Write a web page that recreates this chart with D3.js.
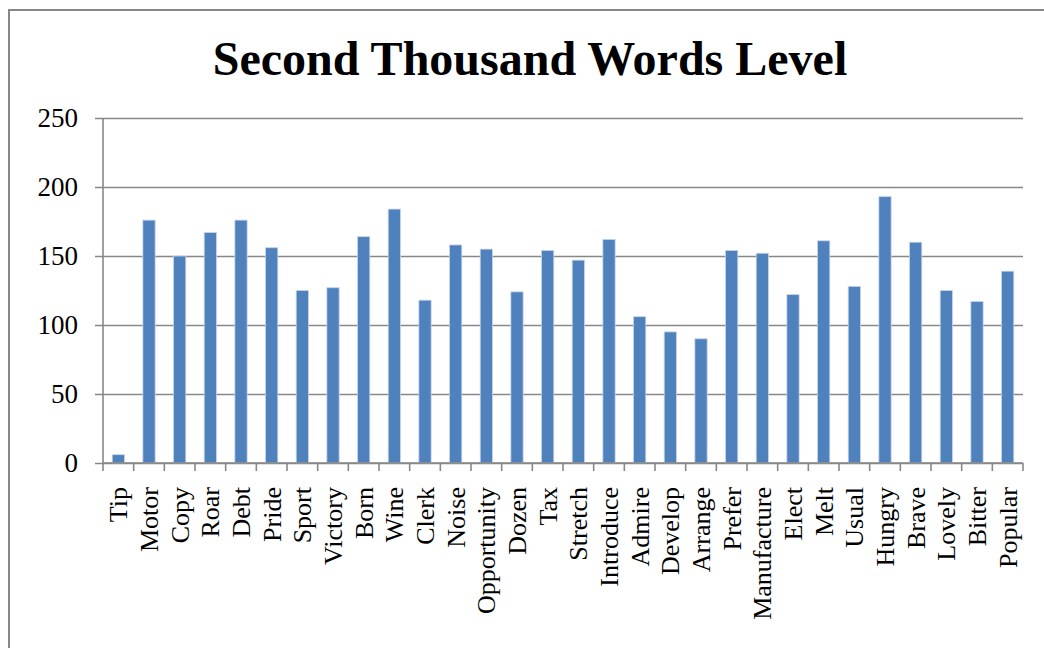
<!DOCTYPE html>
<html>
<head>
<meta charset="utf-8">
<script src="https://cdn.jsdelivr.net/npm/d3@7"></script>
<style>
  html,body{margin:0;padding:0;background:#fff;}
  svg{display:block;font-family:"Liberation Serif","Times New Roman",serif;}
</style>
</head>
<body>
<div id="chart"></div>
<script>
// Second Thousand Words Level — column chart
const words = ['Tip','Motor','Copy','Roar','Debt','Pride','Sport','Victory','Born','Wine',
  'Clerk','Noise','Opportunity','Dozen','Tax','Stretch','Introduce','Admire','Develop','Arrange',
  'Prefer','Manufacture','Elect','Melt','Usual','Hungry','Brave','Lovely','Bitter','Popular'];
const counts = [6,176,150,167,176,156,125,127,164,184,
  118,158,155,124,154,147,162,106,95,90,
  154,152,122,161,128,193,160,125,117,139];
const yTicks = [0,50,100,150,200,250];
const title = 'Second Thousand Words Level';

const W = 1044, H = 648;
const m = {t:118, r:21, b:185, l:103};
const iw = W-m.l-m.r, ih = H-m.t-m.b;
const GRID = '#878787', BAR = '#4F81BD';

const svg = d3.select('#chart').append('svg').attr('width',W).attr('height',H);

// outer chart frame (right/bottom edges run off the picture)
svg.append('rect').attr('x',9).attr('y',10).attr('width',W+20).attr('height',H+20)
  .attr('fill','none').attr('stroke',GRID).attr('stroke-width',2);

svg.append('text').attr('x',530).attr('y',75).attr('text-anchor','middle')
  .attr('font-size',48).attr('font-weight','bold').attr('fill','#000').text(title);

const g = svg.append('g').attr('transform',`translate(${m.l},${m.t})`);
const x = d3.scaleBand().domain(words).range([0,iw]).paddingInner(0.6).paddingOuter(0.3);
const y = d3.scaleLinear().domain([0,250]).range([ih,0]);

// gridlines + y labels
const ya = g.append('g').call(d3.axisLeft(y).tickValues(yTicks).tickSize(-iw).tickSizeOuter(0).tickPadding(25));
ya.select('.domain').remove();
ya.selectAll('.tick line').attr('stroke',GRID).attr('stroke-width',1.6).attr('x1',-8);
ya.selectAll('.tick text').attr('font-size',27).attr('fill','#000')
  .attr('font-family','"Liberation Serif","Times New Roman",serif');

// vertical axis line
g.append('line').attr('x1',0).attr('x2',0).attr('y1',0).attr('y2',ih)
  .attr('stroke',GRID).attr('stroke-width',1.6);

// bars
g.selectAll('rect.bar').data(words).join('rect').attr('class','bar')
  .attr('x',d=>x(d)).attr('width',x.bandwidth())
  .attr('y',(d,i)=>y(counts[i])).attr('height',(d,i)=>ih-y(counts[i]))
  .attr('fill',BAR).attr('stroke','#c5d5ea').attr('stroke-width',0.8);

// category axis: baseline, boundary ticks, rotated labels
const step = x.step();
g.append('line').attr('x1',0).attr('x2',iw).attr('y1',ih).attr('y2',ih)
  .attr('stroke',GRID).attr('stroke-width',1.6);
g.selectAll('line.xt').data(d3.range(words.length+1)).join('line').attr('class','xt')
  .attr('x1',k=>k*step).attr('x2',k=>k*step).attr('y1',ih).attr('y2',ih+8)
  .attr('stroke',GRID).attr('stroke-width',1.6);
g.selectAll('text.xl').data(words).join('text').attr('class','xl')
  .attr('transform',d=>`translate(${x(d)+x.bandwidth()/2},${ih+24}) rotate(-90)`)
  .attr('text-anchor','end').attr('dy','0.35em').attr('font-size',26).attr('fill','#000')
  .text(d=>d);
</script>
</body>
</html>
